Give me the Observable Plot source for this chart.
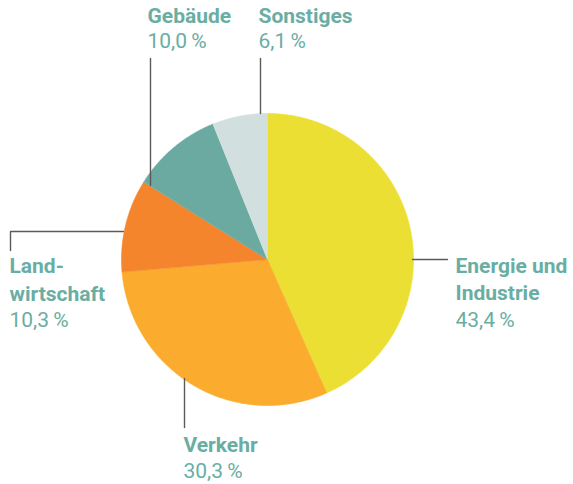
<!DOCTYPE html>
<html>
<head>
<meta charset="utf-8">
<script src="https://cdn.jsdelivr.net/npm/d3@7"></script>
<script src="https://cdn.jsdelivr.net/npm/@observablehq/plot@0.6"></script>
<style>
  html, body { margin: 0; padding: 0; background: #fff; }
  #chart svg { display: block; }
</style>
</head>
<body>
<div id="chart"></div>
<script>
// ---- data ----
const categories = ["Energie und Industrie", "Verkehr", "Landwirtschaft", "Gebäude", "Sonstiges"];
const shares = [43.4, 30.3, 10.3, 10.0, 6.1];
const labelNames = [["Energie und", "Industrie"], ["Verkehr"], ["Land-", "wirtschaft"], ["Gebäude"], ["Sonstiges"]];
const percentLabels = ["43,4\u2009%", "30,3\u2009%", "10,3\u2009%", "10,0\u2009%", "6,1\u2009%"];

// ---- styles ----
const colors = ["#ECDF33", "#FBAB2D", "#F5852D", "#6BAAA1", "#D1E0DF"];
const textColor = "#69ADA3";
const W = 573, H = 484, CX = 267, CY = 259, R = 146;
// pixel -> data helpers (layout only)
const dx = p => (p - CX) / R;
const dy = p => (CY - p) / R;

// ---- layout of labels (pixel positions of text line centres) ----
const labelLayout = [
  {x: 455, ys: [266, 293, 320]},
  {x: 183, ys: [444.5, 471]},
  {x: 9, ys: [266, 294, 320]},
  {x: 147, ys: [15.5, 41]},
  {x: 258, ys: [15.5, 41]}
];
// leader lines (pixel polylines)
const leaderLayout = [
  [[412, 259], [447, 259]],
  [[184, 378], [184, 427]],
  [[10, 250], [10, 231], [123, 231]],
  [[150, 58], [150, 185]],
  [[260, 58], [260, 113]]
];

// ---- pie geometry from data ----
const arcs = d3.pie().sort(null).value(d => d)(shares);
const slicePts = [];
arcs.forEach((a, i) => {
  slicePts.push({k: i, x: 0, y: 0});
  const n = Math.max(4, Math.ceil((a.endAngle - a.startAngle) / 0.01));
  for (let j = 0; j <= n; j++) {
    const t = a.startAngle + (a.endAngle - a.startAngle) * j / n;
    slicePts.push({k: i, x: Math.sin(t), y: Math.cos(t)});
  }
});

const textRows = [];
labelLayout.forEach((L, i) => {
  const lines = [...labelNames[i].map(t => ({t, bold: true})), {t: percentLabels[i], bold: false}];
  lines.forEach((ln, j) => textRows.push({x: dx(L.x), y: dy(L.ys[j]), text: ln.t, bold: ln.bold}));
});

const leaderRows = [];
leaderLayout.forEach((pl, i) => pl.forEach(p => leaderRows.push({k: i, x: dx(p[0]), y: dy(p[1])})));

const marks = [];
categories.forEach((c, i) => {
  marks.push(Plot.line(slicePts.filter(d => d.k === i), {x: "x", y: "y", fill: colors[i], stroke: colors[i], strokeWidth: 0.6}));
});
marks.push(Plot.line(leaderRows, {x: "x", y: "y", z: "k", stroke: "#5a5a5a", strokeWidth: 1.4}));
marks.push(Plot.text(textRows.filter(d => d.bold), {x: "x", y: "y", text: "text", textAnchor: "start", lineAnchor: "middle", fill: textColor, fontSize: 21, fontWeight: "bold"}));
marks.push(Plot.text(textRows.filter(d => !d.bold), {x: "x", y: "y", text: "text", textAnchor: "start", lineAnchor: "middle", fill: textColor, fontSize: 21, fontWeight: "normal"}));

const chart = Plot.plot({
  width: W, height: H,
  margin: 0,
  x: {domain: [dx(0), dx(W)], range: [0, W], axis: null},
  y: {domain: [dy(H), dy(0)], range: [H, 0], axis: null},
  style: {fontFamily: "Roboto, 'DejaVu Sans', sans-serif", background: "#fff", overflow: "visible"},
  marks
});
document.getElementById("chart").appendChild(chart);
</script>
</body>
</html>
